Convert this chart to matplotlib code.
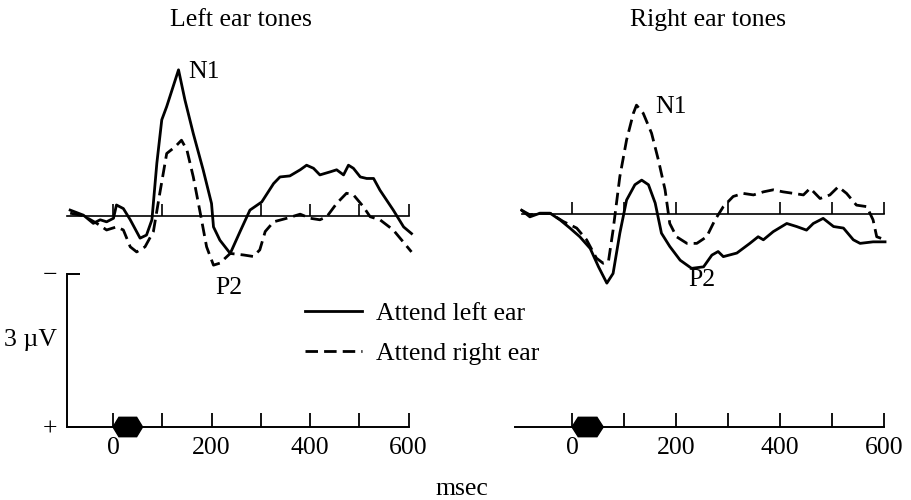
import matplotlib
matplotlib.use('Agg')
import matplotlib.pyplot as plt
from matplotlib.patches import Polygon

plt.rcParams['font.family'] = ['Liberation Serif', 'DejaVu Serif']

# ERP waveforms: time in msec, amplitude in microvolts (negative plotted up)
left_t_attL = [-87, -60, -40, -26, -13, 1, 7, 21, 35, 55, 68, 79, 89, 99, 109, 122, 133, 146, 163, 183,
               200, 204, 217, 238, 258, 278, 302, 326, 339, 359, 380, 393, 407, 420, 441, 454, 468, 478,
               488, 502, 515, 529, 542, 569, 590, 606]
left_v_attL = [-0.11, -0.01, 0.15, 0.08, 0.12, 0.05, -0.21, -0.14, 0.08, 0.44, 0.38, 0.08, -1.03, -1.88,
               -2.14, -2.53, -2.86, -2.27, -1.61, -0.90, -0.24, 0.22, 0.48, 0.74, 0.31, -0.11, -0.27,
               -0.63, -0.76, -0.78, -0.90, -0.99, -0.93, -0.80, -0.86, -0.90, -0.80, -0.99, -0.93, -0.76,
               -0.73, -0.73, -0.50, -0.11, 0.22, 0.35]

left_t_attR = [-87, -60, -33, -13, 7, 21, 35, 48, 65, 82, 95, 109, 126, 139, 150, 163, 176, 190, 204,
               217, 238, 265, 285, 298, 309, 326, 353, 380, 400, 420, 434, 454, 474, 488, 508, 522, 542,
               569, 606]
left_v_attR = [-0.05, 0.0, 0.15, 0.28, 0.22, 0.28, 0.61, 0.71, 0.61, 0.31, -0.44, -1.22, -1.35, -1.48,
               -1.29, -0.76, -0.11, 0.61, 0.97, 0.93, 0.74, 0.77, 0.80, 0.67, 0.31, 0.12, 0.05, -0.03,
               0.05, 0.08, 0.02, -0.24, -0.44, -0.41, -0.18, 0.02, 0.08, 0.28, 0.71]

right_t_attL = [-97, -81, -62, -42, -23, -4, 15, 35, 51, 67, 79, 92, 105, 121, 134, 147, 160, 172, 188,
                208, 230, 253, 269, 281, 291, 317, 342, 358, 368, 387, 413, 432, 451, 464, 483, 503, 522,
                541, 554, 579, 602]
right_v_attL = [-0.08, 0.05, -0.02, -0.02, 0.11, 0.27, 0.44, 0.67, 1.03, 1.35, 1.16, 0.37, -0.28, -0.58,
                -0.67, -0.58, -0.22, 0.37, 0.63, 0.90, 1.06, 1.03, 0.80, 0.73, 0.83, 0.76, 0.57, 0.44,
                0.50, 0.34, 0.18, 0.24, 0.31, 0.18, 0.08, 0.24, 0.27, 0.50, 0.57, 0.54, 0.54]

right_t_attR = [-97, -81, -62, -42, -17, 9, 28, 47, 60, 70, 79, 92, 105, 118, 124, 137, 153, 166, 179,
                188, 201, 221, 240, 259, 275, 291, 310, 329, 349, 368, 387, 406, 426, 445, 458, 477, 496,
                512, 528, 547, 567, 579, 586, 602]
right_v_attR = [-0.08, 0.01, -0.02, -0.02, 0.14, 0.27, 0.50, 0.86, 0.96, 0.93, 0.31, -0.74, -1.46, -1.98,
                -2.14, -1.98, -1.59, -1.07, -0.48, 0.18, 0.44, 0.57, 0.57, 0.44, 0.11, -0.15, -0.35,
                -0.41, -0.38, -0.44, -0.48, -0.44, -0.41, -0.38, -0.51, -0.31, -0.38, -0.54, -0.41,
                -0.18, -0.15, 0.11, 0.44, 0.50]

tick_ms = [0, 100, 200, 300, 400, 500, 600]
label_ms = [0, 200, 400, 600]
stim_on, stim_off = 0, 60
scale_uv = 3

W, H = 911, 500
FS = 18.5
LW = 2.0
DASH = (0, (4.5, 2.2))

fig = plt.figure(figsize=(W / 100, H / 100), dpi=100)


def frac_box(x0, x1, y_top, y_bot):
    return [x0 / W, 1 - y_bot / H, (x1 - x0) / W, (y_bot - y_top) / H]


# pixel layout: 51 px per microvolt, xlim -100..620 ms
ax_tl = fig.add_axes(frac_box(63.75, 418.4, 52.5, 297.3))
ax_tr = fig.add_axes(frac_box(520.0, 894.4, 51.1, 295.9))
ax_bl = fig.add_axes(frac_box(63.75, 418.4, 253.6, 472.9))
ax_br = fig.add_axes(frac_box(520.0, 894.4, 253.6, 472.9))

for ax in (ax_tl, ax_tr, ax_bl, ax_br):
    ax.patch.set_alpha(0)
    ax.set_xlim(-100, 620)
    for s in ('top', 'right', 'left'):
        ax.spines[s].set_visible(False)
    ax.spines['bottom'].set_position(('data', 0))
    ax.spines['bottom'].set_linewidth(1.2)
    ax.set_yticks([])

ax_tl.set_ylim(1.6, -3.2)
ax_tr.set_ylim(1.6, -3.2)
ax_bl.set_ylim(0.9, -3.4)
ax_br.set_ylim(0.9, -3.4)

# waveform panels
for ax in (ax_tl, ax_tr):
    ax.set_xticks(tick_ms)
    ax.tick_params(axis='x', direction='in', length=8.5, width=1.2, labelbottom=False)

ax_tl.spines['bottom'].set_bounds(-93, 600)
ax_tr.spines['bottom'].set_bounds(-96, 600)

l1, = ax_tl.plot(left_t_attL, left_v_attL, color='black', lw=LW, label='Attend left ear')
l2, = ax_tl.plot(left_t_attR, left_v_attR, color='black', lw=LW, linestyle=DASH, label='Attend right ear')
ax_tr.plot(right_t_attL, right_v_attL, color='black', lw=LW)
ax_tr.plot(right_t_attR, right_v_attR, color='black', lw=LW, linestyle=DASH)

ax_tl.text(152, -2.82, 'N1', fontsize=FS, ha='left', va='center')
ax_tl.text(236, 1.42, 'P2', fontsize=FS, ha='center', va='center')
ax_tr.text(160, -2.1, 'N1', fontsize=FS, ha='left', va='center')
ax_tr.text(250, 1.29, 'P2', fontsize=FS, ha='center', va='center')

# time axes below
for ax, start in ((ax_bl, -93), (ax_br, -110)):
    ax.spines['bottom'].set_bounds(start, 600)
    ax.spines['bottom'].set_linewidth(1.4)
    ax.set_xticks(label_ms)
    ax.set_xticks([t for t in tick_ms if t not in label_ms], minor=True)
    ax.tick_params(axis='x', which='both', direction='in', length=10, width=1.3, pad=7, labelsize=FS)
    dx = (stim_off - stim_on) * 0.2
    hexagon = Polygon([(stim_on, 0), (stim_on + dx, -0.19), (stim_off - dx, -0.19), (stim_off, 0),
                       (stim_off - dx, 0.19), (stim_on + dx, 0.19)], closed=True, color='black', zorder=5)
    ax.add_patch(hexagon)

# microvolt scale bar
ax_bl.spines['left'].set_visible(True)
ax_bl.spines['left'].set_position(('data', -93))
ax_bl.spines['left'].set_bounds(-scale_uv, 0)
ax_bl.spines['left'].set_linewidth(1.4)
ax_bl.set_yticks([-scale_uv, 0])
ax_bl.set_yticklabels(['\u2212', '+'])
ax_bl.tick_params(axis='y', direction='in', length=9.5, width=1.4, pad=7, labelsize=FS)

fig.text(241 / W, 1 - 20 / H, 'Left ear tones', fontsize=FS, ha='center', va='center')
fig.text(708 / W, 1 - 20 / H, 'Right ear tones', fontsize=FS, ha='center', va='center')
fig.text(31 / W, 1 - 340 / H, '3 \u00b5V', fontsize=FS, ha='center', va='center')
fig.text(462 / W, 1 - 489 / H, 'msec', fontsize=FS, ha='center', va='center')

fig.legend(handles=[l1, l2], loc='center left', bbox_to_anchor=(305 / W, 1 - 333.5 / H),
           frameon=False, fontsize=FS, handlelength=2.2, handletextpad=0.55,
           labelspacing=0.65, borderpad=0, borderaxespad=0)

fig.savefig('out.png', dpi=100)
